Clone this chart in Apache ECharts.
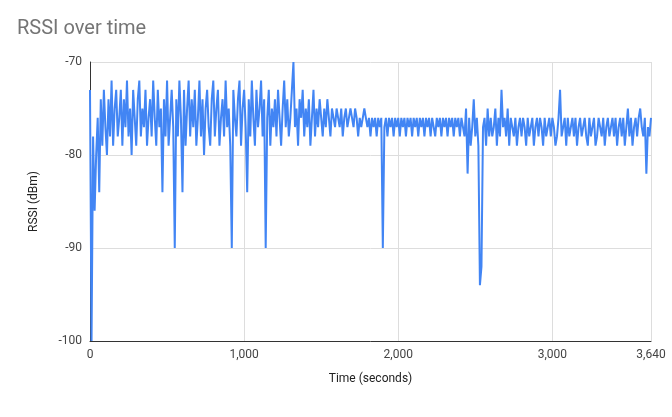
<!DOCTYPE html><html><head><meta charset="utf-8">
<script src="https://cdn.jsdelivr.net/npm/echarts@6/dist/echarts.min.js"></script>
<style>html,body{margin:0;background:#fff}#c{width:672px;height:417px}</style></head><body><div id="c"></div>
<script>
const stepSeconds = 10;
const rssi = [
-73,-100,-78,-86,-80,-76,-84,-74,-79,-73,-77,-80,-74,-78,-72,-79,-75,-73,-78,-76,
-73,-79,-74,-77,-72,-78,-75,-80,-73,-76,-79,-74,-72,-78,-75,-77,-73,-79,-76,-74,
-78,-72,-76,-79,-73,-77,-75,-84,-74,-78,-72,-79,-76,-73,-77,-90,-74,-78,-72,-76,
-84,-73,-79,-75,-72,-78,-74,-77,-73,-79,-76,-72,-78,-74,-80,-75,-73,-77,-79,-74,
-72,-78,-75,-73,-79,-76,-74,-78,-72,-77,-75,-79,-90,-73,-76,-78,-74,-72,-79,-75,
-73,-77,-84,-74,-78,-72,-76,-79,-73,-77,-75,-72,-78,-74,-90,-76,-73,-79,-75,-77,
-74,-78,-73,-76,-79,-75,-72,-77,-74,-78,-76,-73,-70,-77,-75,-79,-74,-76,-73,-78,
-75,-77,-74,-79,-76,-73,-78,-75,-77,-74,-76,-78,-75,-77,-74,-76,-78,-75,-76,-77,
-75,-76,-77,-75,-78,-76,-75,-77,-76,-75,-76,-77,-75,-76,-78,-76,-77,-76,-75,-76,
-77,-76,-78,-76,-77,-76,-78,-76,-77,-76,-90,-77,-76,-78,-76,-77,-76,-78,-76,-77,
-76,-78,-76,-77,-76,-78,-76,-77,-76,-78,-76,-77,-76,-78,-76,-77,-76,-78,-76,-77,
-76,-78,-76,-77,-78,-76,-77,-76,-78,-76,-77,-76,-78,-76,-77,-76,-78,-76,-77,-76,
-78,-76,-77,-78,-75,-82,-76,-79,-77,-74,-78,-76,-79,-94,-92,-77,-76,-79,-75,-78,
-76,-78,-77,-75,-79,-76,-78,-73,-77,-76,-78,-75,-79,-76,-77,-78,-76,-79,-77,-76,
-78,-76,-77,-79,-76,-78,-77,-76,-79,-77,-76,-78,-76,-77,-79,-76,-78,-77,-76,-78,
-76,-77,-79,-78,-76,-73,-78,-77,-76,-79,-76,-78,-77,-76,-78,-76,-79,-77,-76,-78,
-77,-76,-78,-79,-76,-78,-77,-76,-79,-78,-76,-77,-78,-76,-79,-77,-76,-78,-77,-76,
-78,-76,-79,-77,-76,-78,-76,-79,-77,-75,-78,-76,-79,-77,-76,-78,-76,-75,-77,-78,-76,-82,-77,-78,-76
];
const yTicks = [-100,-90,-80,-70];
const data = rssi.map((v,i)=>[i*stepSeconds, v]);
const c = echarts.init(document.getElementById('c'));
c.setOption({
  animation:false,
  title:{text:'RSSI over time',left:12,top:14,textStyle:{fontFamily:'Roboto, Arial',fontSize:20,fontWeight:'normal',color:'#757575'}},
  grid:{left:90,right:21,top:62,bottom:76},
  xAxis:{type:'value',min:0,max:3640,interval:1000,name:'Time (seconds)',nameLocation:'middle',nameGap:32,
    nameTextStyle:{fontFamily:'Roboto, Arial',fontSize:12,color:'#222'},
    axisLine:{lineStyle:{color:'#333'}},axisTick:{show:false},
    axisLabel:{fontFamily:'Roboto, Arial',fontSize:12,color:'#444'},
    splitLine:{show:true,lineStyle:{color:'#ddd'}}},
  yAxis:{type:'value',min:-100,max:-70,interval:10,name:'RSSI (dBm)',nameLocation:'middle',nameGap:50,
    nameTextStyle:{fontFamily:'Roboto, Arial',fontSize:12,color:'#222'},
    axisLine:{show:true,lineStyle:{color:'#333'}},axisTick:{show:false},
    axisLabel:{fontFamily:'Roboto, Arial',fontSize:12,color:'#444',formatter:v=>yTicks.includes(v)?String(v):''},
    splitLine:{lineStyle:{color:'#ddd'}}},
  series:[{type:'line',data:data,showSymbol:false,lineStyle:{color:'#4285F4',width:2},itemStyle:{color:'#4285F4'}}]
});
</script></body></html>
